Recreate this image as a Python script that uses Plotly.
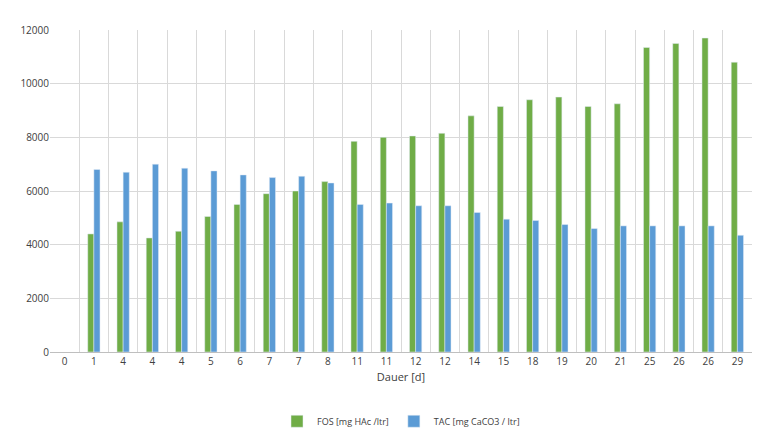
import plotly.graph_objects as go

tage = ['0', '1', '4', '4', '4', '5', '6', '7', '7', '8', '11', '11', '12', '12', '14', '15',
        '18', '19', '20', '21', '25', '26', '26', '29']
fos = [None, 4400, 4850, 4250, 4500, 5050, 5500, 5900, 6000, 6350, 7850, 8000, 8050, 8150,
       8800, 9150, 9400, 9500, 9150, 9250, 11350, 11500, 11700, 10800]
tac = [None, 6800, 6700, 7000, 6850, 6750, 6600, 6500, 6550, 6300, 5500, 5550, 5450, 5450,
       5200, 4950, 4900, 4750, 4600, 4700, 4700, 4700, 4700, 4350]

idx = list(range(len(tage)))

fig = go.Figure()
fig.add_trace(go.Bar(x=idx, y=fos, name='FOS [mg HAc /ltr]', marker_color='#70AD47'))
fig.add_trace(go.Bar(x=idx, y=tac, name='TAC [mg CaCO3 / ltr]', marker_color='#5B9BD5'))

fig.update_layout(
    width=760, height=440,
    paper_bgcolor='white', plot_bgcolor='white',
    font=dict(family='Open Sans, DejaVu Sans, sans-serif', size=10, color='#404040'),
    margin=dict(l=42, r=16, t=22, b=94),
    bargap=0.58, bargroupgap=0,
    legend=dict(orientation='h', x=0.5, xanchor='center', y=-0.17, yanchor='top',
                font=dict(size=9)),
)
fig.update_xaxes(
    tickmode='array', tickvals=idx, ticktext=tage, range=[-0.5, len(tage) - 0.5],
    showgrid=False, showline=True, linecolor='#BFBFBF',
    minor=dict(tickmode='array', tickvals=[i + 0.5 for i in idx], showgrid=True,
               gridcolor='#D9D9D9'),
    title=dict(text='Dauer [d]', font=dict(size=11), standoff=6),
)
fig.update_yaxes(
    range=[0, 12000], dtick=2000, showgrid=True, gridcolor='#D9D9D9', zeroline=False,
    tickformat='d',
)

fig.write_html("out.html")
